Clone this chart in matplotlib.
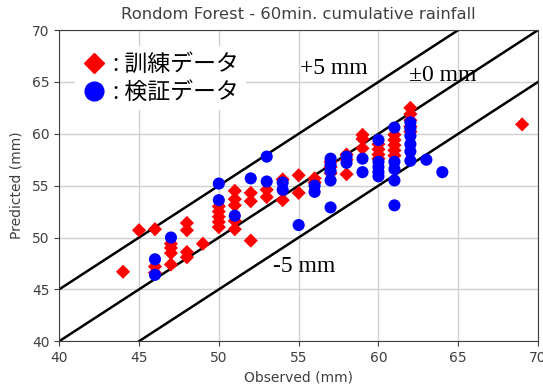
import matplotlib.pyplot as plt
from matplotlib.lines import Line2D

# training data (red diamonds): observed, predicted
train_obs = [44, 45, 46, 46, 46, 47, 47, 47, 47, 48, 48, 48, 48, 49,
             50, 50, 50, 50, 50, 51, 51, 51, 51, 51, 52, 52, 52, 53, 53,
             54, 54, 55, 55, 56, 56, 57, 57, 57, 58, 58, 58, 59, 59, 59,
             60, 60, 60, 60, 61, 61, 61, 61, 61, 62, 62, 62, 62, 62, 69]
train_pred = [46.7, 50.7, 50.8, 47.2, 46.6, 49.4, 49.0, 48.5, 47.4, 51.4, 50.7, 48.6, 48.1, 49.4,
              53.0, 52.5, 52.0, 51.5, 51.0, 54.5, 53.7, 53.1, 51.6, 50.8, 54.3, 53.5, 49.7, 54.6, 53.9,
              55.6, 53.6, 56.0, 54.3, 55.7, 55.3, 57.3, 56.8, 56.2, 58.0, 57.5, 56.1, 59.9, 59.5, 58.6,
              59.0, 58.5, 58.0, 57.6, 59.9, 59.4, 58.9, 58.4, 57.9, 62.5, 61.9, 61.3, 60.7, 60.2, 60.9]

# validation data (blue circles)
valid_obs = [46, 46, 47, 50, 50, 51, 52, 53, 53, 54, 54, 55, 56, 56,
             57, 57, 57, 57, 57, 58, 58, 59, 59, 60, 60, 60, 60, 60,
             61, 61, 61, 61, 61, 62, 62, 62, 62, 62, 62, 63, 64]
valid_pred = [47.9, 46.4, 50.0, 55.2, 53.6, 52.1, 55.7, 57.8, 55.4, 55.3, 54.6, 51.2, 55.0, 54.4,
              57.6, 57.0, 56.4, 55.5, 52.9, 57.8, 57.2, 57.6, 56.3, 59.4, 57.3, 56.8, 56.3, 55.9,
              60.6, 57.3, 56.6, 55.5, 53.1, 61.1, 60.5, 59.8, 59.0, 58.3, 57.4, 57.5, 56.3]

# reference lines: y = x + offset
offsets = [5, 0, -5]
line_labels = ["+5 mm", "±0 mm", "-5 mm"]
label_pos = [(55.1, 66.3), (61.9, 65.6), (53.4, 47.2)]
lims = [40, 70]

gray = "#404040"

fig = plt.figure(figsize=(5.43, 3.9), dpi=100)
ax = fig.add_axes([0.109, 0.125, 0.882, 0.798])

for off in offsets:
    ax.plot([lims[0], lims[1]], [lims[0] + off, lims[1] + off], color="black", linewidth=1.8, zorder=2)

ax.scatter(train_obs, train_pred, marker="D", s=52, color="red", edgecolors="none", zorder=3)
ax.scatter(valid_obs, valid_pred, marker="o", s=76, color="blue", edgecolors="none", zorder=4)

for txt, (tx, ty) in zip(line_labels, label_pos):
    ax.text(tx, ty, txt, fontsize=17, family="Liberation Serif", ha="left", va="center", zorder=5)

ax.set_xlim(lims)
ax.set_ylim(lims)
ax.set_xticks(range(40, 71, 5))
ax.set_yticks(range(40, 71, 5))
ax.grid(True, color="#d0d0d0", linewidth=1.0, zorder=0)
ax.set_axisbelow(True)
ax.tick_params(colors=gray, labelsize=10, labelcolor=gray)
for sp in ax.spines.values():
    sp.set_color(gray)

ax.set_title("Rondom Forest - 60min. cumulative rainfall", fontsize=11.8, color=gray, pad=8)
ax.set_xlabel("Observed (mm)", fontsize=10, color=gray)
ax.set_ylabel("Predicted (mm)", fontsize=10, color=gray, labelpad=6)

handles = [Line2D([], [], marker="D", linestyle="none", color="red", markersize=10),
           Line2D([], [], marker="o", linestyle="none", color="blue", markersize=13.5)]
leg = ax.legend(handles, [": 訓練データ", ": 検証データ"], loc="upper left",
                bbox_to_anchor=(0.01, 0.985), frameon=True, framealpha=1, edgecolor="none",
                handletextpad=0.35, handlelength=1.0, labelspacing=0.2, borderpad=0.3,
                prop={"family": ["Noto Sans CJK JP", "DejaVu Sans"], "size": 16.5})
leg.set_zorder(6)

fig.savefig("out.png", dpi=100)
